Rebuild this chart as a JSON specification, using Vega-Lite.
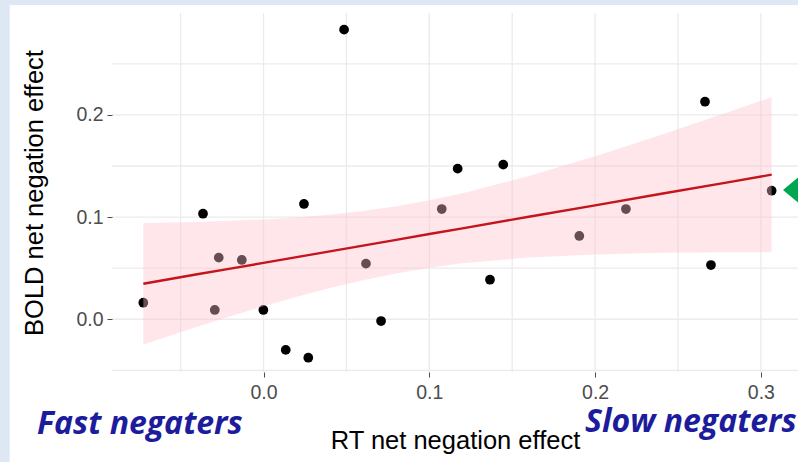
{
  "$schema": "https://vega.github.io/schema/vega-lite/v6.json",
  "width": 686,
  "height": 359,
  "autosize": {"type": "none"},
  "padding": {"left": 112, "top": 13, "right": 0, "bottom": 90},
  "background": "#dde8f4",
  "config": {"view": {"stroke": null}, "font": "Liberation Sans"},
  "datasets": {
    "points": [
      {"x": -0.0725, "y": 0.0162},
      {"x": -0.0365, "y": 0.1033},
      {"x": -0.0270, "y": 0.0603},
      {"x": -0.0294, "y": 0.0091},
      {"x": -0.0131, "y": 0.0580},
      {"x": -0.0001, "y": 0.0091},
      {"x": 0.0134, "y": -0.0300},
      {"x": 0.0270, "y": -0.0376},
      {"x": 0.0244, "y": 0.1128},
      {"x": 0.0486, "y": 0.2834},
      {"x": 0.0618, "y": 0.0544},
      {"x": 0.0709, "y": -0.0017},
      {"x": 0.1075, "y": 0.1079},
      {"x": 0.1171, "y": 0.1474},
      {"x": 0.1446, "y": 0.1513},
      {"x": 0.1366, "y": 0.0387},
      {"x": 0.1905, "y": 0.0815},
      {"x": 0.2186, "y": 0.1079},
      {"x": 0.2663, "y": 0.2129},
      {"x": 0.2699, "y": 0.0531},
      {"x": 0.3065, "y": 0.1258}
    ],
    "fit": [
      {"x": -0.0725, "fit": 0.0348, "lo": -0.0247, "hi": 0.0943},
      {"x": -0.04, "fit": 0.0440, "lo": -0.0074, "hi": 0.0953},
      {"x": -0.02, "fit": 0.0496, "lo": 0.0029, "hi": 0.0963},
      {"x": 0.0, "fit": 0.0552, "lo": 0.0127, "hi": 0.0977},
      {"x": 0.02, "fit": 0.0608, "lo": 0.0220, "hi": 0.0996},
      {"x": 0.04, "fit": 0.0665, "lo": 0.0307, "hi": 0.1023},
      {"x": 0.06, "fit": 0.0721, "lo": 0.0383, "hi": 0.1059},
      {"x": 0.08, "fit": 0.0777, "lo": 0.0449, "hi": 0.1105},
      {"x": 0.10, "fit": 0.0834, "lo": 0.0504, "hi": 0.1164},
      {"x": 0.12, "fit": 0.0890, "lo": 0.0547, "hi": 0.1233},
      {"x": 0.16, "fit": 0.1003, "lo": 0.0604, "hi": 0.1402},
      {"x": 0.20, "fit": 0.1115, "lo": 0.0634, "hi": 0.1596},
      {"x": 0.24, "fit": 0.1228, "lo": 0.0650, "hi": 0.1806},
      {"x": 0.28, "fit": 0.1340, "lo": 0.0655, "hi": 0.2025},
      {"x": 0.3065, "fit": 0.1415, "lo": 0.0657, "hi": 0.2174}
    ],
    "gridx": [{"v": -0.05}, {"v": 0}, {"v": 0.05}, {"v": 0.1}, {"v": 0.15}, {"v": 0.2}, {"v": 0.25}, {"v": 0.3}],
    "gridy": [{"v": -0.05}, {"v": 0}, {"v": 0.05}, {"v": 0.1}, {"v": 0.15}, {"v": 0.2}, {"v": 0.25}],
    "one": [{"k": 1}]
  },
  "layer": [
    {
      "data": {"name": "one"},
      "mark": {"type": "rect", "fill": "white"},
      "encoding": {
        "x": {
          "datum": -0.1531, "type": "quantitative",
          "scale": {"domain": [-0.0914, 0.3224], "nice": false, "zero": false},
          "axis": {
            "title": "RT net negation effect", "values": [0, 0.1, 0.2, 0.3], "format": ".1f",
            "grid": false, "domain": false, "ticks": true, "tickSize": 5, "tickColor": "#4d4d4d", "tickWidth": 1,
            "labelFontSize": 19.5, "labelColor": "#4d4d4d", "labelPadding": 6, "labelFont": "Liberation Sans",
            "titleFontSize": 25.5, "titleColor": "#000000", "titleFontWeight": "normal", "titleFont": "Liberation Sans",
            "titlePadding": 27, "zindex": 1
          }
        },
        "x2": {"datum": 0.3224},
        "y": {
          "datum": 0.3075, "type": "quantitative",
          "scale": {"domain": [-0.0516, 0.2997], "nice": false, "zero": false},
          "axis": {
            "title": "BOLD net negation effect", "values": [0, 0.1, 0.2], "format": ".1f",
            "grid": false, "domain": false, "ticks": true, "tickSize": 5, "tickColor": "#4d4d4d", "tickWidth": 1,
            "labelFontSize": 19.5, "labelColor": "#4d4d4d", "labelPadding": 4, "labelFont": "Liberation Sans",
            "titleFontSize": 25.5, "titleColor": "#000000", "titleFontWeight": "normal", "titleFont": "Liberation Sans",
            "titlePadding": 28, "zindex": 1
          }
        },
        "y2": {"datum": -0.1396}
      }
    },
    {
      "data": {"name": "gridx"},
      "mark": {"type": "rule", "color": "#ebebeb", "strokeWidth": 1.3},
      "encoding": {"x": {"field": "v", "type": "quantitative"}}
    },
    {
      "data": {"name": "gridy"},
      "mark": {"type": "rule", "color": "#ebebeb", "strokeWidth": 1.3},
      "encoding": {"y": {"field": "v", "type": "quantitative"}}
    },
    {
      "data": {"name": "points"},
      "mark": {"type": "circle", "color": "#000000", "size": 95, "opacity": 1},
      "encoding": {
        "x": {"field": "x", "type": "quantitative"},
        "y": {"field": "y", "type": "quantitative"}
      }
    },
    {
      "data": {"name": "fit"},
      "mark": {"type": "area", "fill": "pink", "opacity": 0.4},
      "encoding": {
        "x": {"field": "x", "type": "quantitative"},
        "y": {"field": "lo", "type": "quantitative"},
        "y2": {"field": "hi"}
      }
    },
    {
      "data": {"name": "fit"},
      "mark": {"type": "line", "color": "#c4141c", "strokeWidth": 2.4},
      "encoding": {
        "x": {"field": "x", "type": "quantitative"},
        "y": {"field": "fit", "type": "quantitative"}
      }
    },
    {
      "data": {"name": "one"},
      "mark": {"type": "text", "text": "Fast negaters", "align": "left", "baseline": "alphabetic", "font": "Open Sans", "fontStyle": "italic", "fontWeight": "bold", "fontSize": 32, "color": "#1c1c9c"},
      "encoding": {
        "x": {"datum": -0.1366, "type": "quantitative"},
        "y": {"datum": -0.1122, "type": "quantitative"}
      }
    },
    {
      "data": {"name": "one"},
      "mark": {"type": "text", "text": "Slow negaters", "align": "left", "baseline": "alphabetic", "font": "Open Sans", "fontStyle": "italic", "fontWeight": "bold", "fontSize": 32, "color": "#1c1c9c"},
      "encoding": {
        "x": {"datum": 0.1939, "type": "quantitative"},
        "y": {"datum": -0.1103, "type": "quantitative"}
      }
    },
    {
      "data": {"name": "one"},
      "mark": {"type": "point", "shape": "M-1,0L0.2,-1L0.2,1Z", "filled": true, "color": "#00a651", "opacity": 1, "size": 1600, "strokeWidth": 0},
      "encoding": {
        "x": {"datum": 0.3254, "type": "quantitative"},
        "y": {"datum": 0.1265, "type": "quantitative"}
      }
    }
  ]
}
